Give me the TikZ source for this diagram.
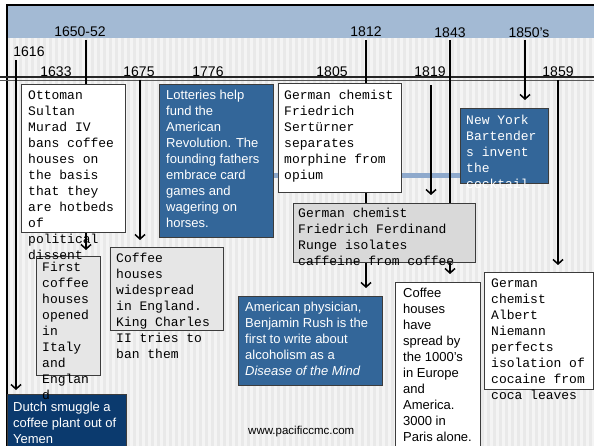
\documentclass[tikz,border=0pt]{standalone}
\usepackage{fontspec}
\setmainfont{Liberation Sans}
\newfontfamily\monofont{Liberation Mono}
\usetikzlibrary{arrows.meta}

\definecolor{bandblue}{HTML}{A3BAD4}
\definecolor{paper}{HTML}{F4F4F4}
\definecolor{stripe}{HTML}{E9E9E9}
\definecolor{cardblue}{HTML}{336699}
\definecolor{navy}{HTML}{0B3A6E}
\definecolor{cardgrey}{HTML}{E6E6E6}
\definecolor{cardgreydark}{HTML}{D9D9D9}
\definecolor{boxline}{HTML}{3C3C3C}
\definecolor{railblue}{HTML}{8EA9CC}

\newcommand\boxlines[1]{\begin{tabular}[t]{@{}l@{}}#1\end{tabular}}

\pgfdeclarelayer{bg}
\pgfdeclarelayer{rails}
\pgfsetlayers{bg,rails,main}

\tikzset{
  yearlbl/.style={anchor=base, inner sep=0pt, font=\fontsize{14}{14}\selectfont},
  tickline/.style={line width=1.5pt, draw=black},
  tickarrow/.style={tickline, -{Straight Barb[length=4.5pt,width=10pt,line width=1.5pt]}, shorten >=#1},
  tickarrow/.default=6pt,
  card/.style={draw=boxline, line width=0.9pt, anchor=north west, inner sep=0pt, outer sep=0pt},
  sanstext/.style={anchor=base west, inner sep=0pt, font=\fontsize{13}{16}\selectfont},
  monotext/.style={anchor=base west, inner sep=0pt, font=\monofont\fontsize{13}{16}\selectfont},
}

\begin{document}
\begin{tikzpicture}[x=1pt, y=-1pt]
\useasboundingbox (0,0) rectangle (594,446);
\clip (0,0) rectangle (594,446);

% slide background: striped paper, blue title band, frame
\begin{pgfonlayer}{bg}
  \fill[white] (0,0) rectangle (594,446);
  \fill[paper] (7,38) rectangle (594,446);
  \foreach \i in {0,...,97} {
    \fill[stripe] ({7+\i*6},38) rectangle +(3,408);
  }
  \fill[bandblue] (7,5) rectangle (594,38);
  \draw[line width=2pt, black] (7,446) -- (7,5) -- (594,5);
  % double time axis
  \draw[line width=1.2pt, draw=black!85] (0,77) -- (594,77);
  \draw[line width=0.9pt, draw=black!65] (0,80) -- (594,80);
  % light blue rail across the middle
  \fill[railblue] (272,173) rectangle (548,178);
\end{pgfonlayer}

% year labels
\node[yearlbl] (y1616) at (29,57) {1616};
\node[yearlbl] (y1650) at (80,37) {1650-52};
\node[yearlbl] (y1633) at (56,77) {1633};
\node[yearlbl] (y1675) at (139,77) {1675};
\node[yearlbl] (y1776) at (208,77) {1776};
\node[yearlbl] (y1805) at (332,77) {1805};
\node[yearlbl] (y1812) at (366,37) {1812};
\node[yearlbl] (y1843) at (450,38) {1843};
\node[yearlbl] (y1850) at (529,38) {1850’s};
\node[yearlbl] (y1819) at (430,77) {1819};
\node[yearlbl] (y1859) at (558,77) {1859};

% cards
\node[card, fill=white, minimum width=104pt, minimum height=148pt] (ottoman) at (21,84) {};
\node[card, fill=cardblue, minimum width=114pt, minimum height=153pt] (lottery) at (159,84) {};
\node[card, fill=white, minimum width=123pt, minimum height=109pt] (serturner) at (278,83) {};
\node[card, fill=cardblue, minimum width=88pt, minimum height=75pt] (bartender) at (460,108) {};
\node[card, fill=cardgreydark, minimum width=182pt, minimum height=59pt] (runge) at (293,203) {};
\node[card, fill=cardgrey, minimum width=64pt, minimum height=119pt] (firsthouses) at (36,256) {};
\node[card, fill=cardgrey, minimum width=113pt, minimum height=83pt] (widespread) at (110,247) {};
\node[card, fill=cardblue, minimum width=144pt, minimum height=89pt] (rush) at (238,296) {};
\node[card, fill=white, minimum width=85pt, minimum height=175pt] (spread) at (395,282) {};
\node[card, fill=white, minimum width=109pt, minimum height=117pt] (niemann) at (484,272) {};
\node[card, fill=navy, minimum width=119pt, minimum height=60pt] (dutch) at (7,394) {};

% card texts
\node[monotext] (tottoman) at (28,99.5) {\boxlines{Ottoman\\Sultan\\Murad IV\\bans coffee\\houses on\\the basis\\that they\\are hotbeds\\of\\political\\dissent}};
\node[sanstext, text=white] (tlottery) at (166,99.5) {\boxlines{Lotteries help\\fund the\\American\\Revolution. The\\founding fathers\\embrace card\\games and\\wagering on\\horses.}};
\node[monotext] (tserturner) at (284,99.5) {\boxlines{German chemist\\Friedrich\\Sertürner\\separates\\morphine from\\opium}};
\node[monotext, text=white] (tbartender) at (466,124.5) {\boxlines{New York\\Bartender\\s invent\\the\\cocktail}};
\node[monotext] (trunge) at (298,217.5) {\boxlines{German chemist\\Friedrich Ferdinand\\Runge isolates\\caffeine from coffee}};
\node[monotext] (tfirsthouses) at (42,271.5) {\boxlines{First\\coffee\\houses\\opened\\in\\Italy\\and\\Englan\\d}};
\node[monotext] (twidespread) at (116,262.5) {\boxlines{Coffee\\houses\\widespread\\in England.\\King Charles\\II tries to\\ban them}};
\node[sanstext, text=white] (trush) at (245,311.5) {\boxlines{American physician,\\Benjamin Rush is the\\first to write about\\alcoholism as a\\\textit{Disease of the Mind}}};
\node[sanstext] (tspread) at (403,297.5) {\boxlines{Coffee\\houses\\have\\spread by\\the 1000’s\\in Europe\\and\\America.\\3000 in\\Paris alone.}};
\node[monotext] (tniemann) at (491,287.5) {\boxlines{German\\chemist\\Albert\\Niemann\\perfects\\isolation of\\cocaine from\\coca leaves}};
\node[sanstext, text=white] (tdutch) at (13,411.5) {\boxlines{Dutch smuggle a\\coffee plant out of\\Yemen}};
\node[anchor=base west, inner sep=0pt, font=\fontsize{11.5}{12}\selectfont] (url) at (248,434) {www.pacificcmc.com};

% where each year's stroke leaves the axis
\coordinate (s1616) at (16,60);
\coordinate (s1650) at (86,40);
\coordinate (s1675) at (140,80);
\coordinate (s1812) at (366,40);
\coordinate (s1819) at (431,85);
\coordinate (s1843) at (450,40);
\coordinate (s1850) at (525,40);
\coordinate (s1859) at (558,80);

% year strokes, running behind the cards
\begin{pgfonlayer}{rails}
  \draw[tickarrow=4pt] (s1616) -- (s1616 |- dutch.north);
  \draw[tickarrow=6pt] (s1650) -- (s1650 |- firsthouses.north);
  \draw[tickarrow=7pt] (s1675) -- (s1675 |- widespread.north);
  \draw[tickarrow=8pt] (s1812) -- (s1812 |- rush.north);
  \draw[tickarrow=8pt] (s1843) -- (s1843 |- spread.north);
  \draw[tickarrow=8pt] (s1850) -- (s1850 |- bartender.north);
  \draw[tickarrow=8pt] (s1819) -- (s1819 |- runge.north);
  \draw[tickarrow=7pt] (s1859) -- (s1859 |- niemann.north);
\end{pgfonlayer}
\end{tikzpicture}
\end{document}
